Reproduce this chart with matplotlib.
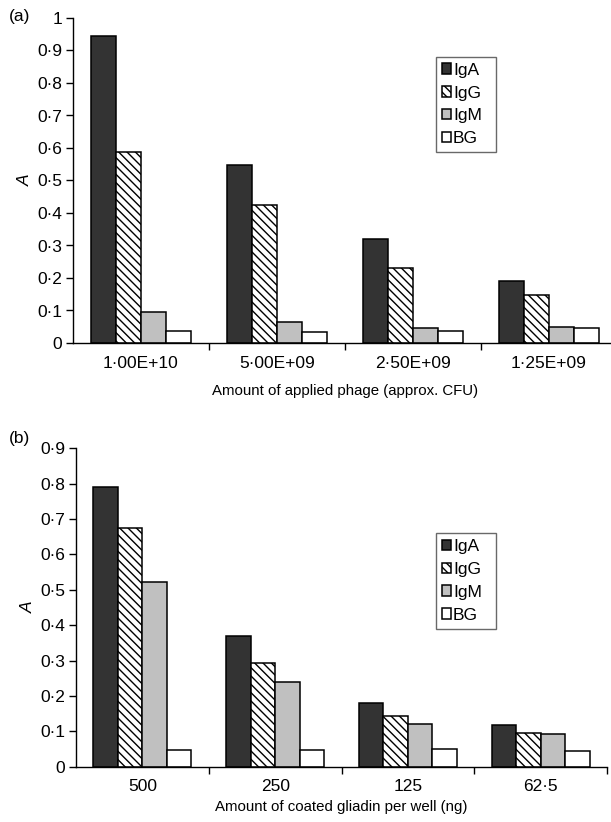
import matplotlib
matplotlib.use("Agg")
import matplotlib.pyplot as plt
import numpy as np
from matplotlib.ticker import FuncFormatter, FixedLocator

plt.rcParams['font.family'] = ['Liberation Sans', 'DejaVu Sans']
plt.rcParams['hatch.linewidth'] = 1.0

series = ['IgA', 'IgG', 'IgM', 'BG']

cats_a = ['1·00E+10', '5·00E+09', '2·50E+09', '1·25E+09']
vals_a = {
    'IgA': [0.945, 0.547, 0.321, 0.191],
    'IgG': [0.589, 0.425, 0.230, 0.149],
    'IgM': [0.096, 0.065, 0.045, 0.050],
    'BG':  [0.037, 0.033, 0.036, 0.045],
}

cats_b = ['500', '250', '125', '62·5']
vals_b = {
    'IgA': [0.792, 0.370, 0.179, 0.117],
    'IgG': [0.674, 0.293, 0.142, 0.095],
    'IgM': [0.521, 0.239, 0.121, 0.092],
    'BG':  [0.046, 0.046, 0.051, 0.043],
}

styles = {
    'IgA': dict(facecolor='#333333', hatch=None),
    'IgG': dict(facecolor='white', hatch='\\\\\\\\'),
    'IgM': dict(facecolor='#c0c0c0', hatch=None),
    'BG':  dict(facecolor='white', hatch=None),
}

W, H = 611, 822
fig = plt.figure(figsize=(W/100, H/100), dpi=100)

def px_axes(left, right, top, bottom):
    return fig.add_axes([left/W, (H-bottom)/H, (right-left)/W, (bottom-top)/H])

fs_tick = 12.5
fs_lab = 10.8
fs_leg = 12.5
dotfmt = FuncFormatter(lambda v, p: ('0' if abs(v) < 1e-9 else ('1' if abs(v-1) < 1e-9 else f'{v:.1f}'.replace('.', '·'))))

def draw(ax, cats, vals, ymax, xlabel, xlabelpad, leg_box):
    x = np.arange(len(cats))
    bw = 0.185
    for i, s in enumerate(series):
        st = styles[s]
        ax.bar(x + (i-1.5)*bw, vals[s], width=bw, facecolor=st['facecolor'],
               hatch=st['hatch'], edgecolor='black', linewidth=1.1, label=s)
    ax.set_xlim(-0.5, 3.5)
    ax.set_ylim(0, ymax)
    ax.set_yticks(np.round(np.arange(0, ymax+0.001, 0.1), 2))
    ax.yaxis.set_major_formatter(dotfmt)
    ax.set_xticks(x)
    ax.set_xticklabels(cats)
    ax.xaxis.set_minor_locator(FixedLocator([0.5, 1.5, 2.5, 3.5]))
    ax.tick_params(axis='x', which='major', length=0, pad=9, labelsize=fs_tick)
    ax.tick_params(axis='x', which='minor', length=5, direction='out', width=1)
    ax.tick_params(axis='y', length=5, width=1, direction='out', labelsize=fs_tick, pad=3)
    for sp in ['top', 'right']:
        ax.spines[sp].set_visible(False)
    for sp in ['left', 'bottom']:
        ax.spines[sp].set_linewidth(1.0)
    ax.set_xlabel(xlabel, fontsize=fs_lab, labelpad=xlabelpad)
    ax.set_ylabel('A', fontsize=fs_tick, style='italic', labelpad=3)
    leg = ax.legend(loc='upper left', bbox_to_anchor=leg_box, mode='expand',
                    fontsize=fs_leg, frameon=True, fancybox=False, edgecolor='#444444',
                    handlelength=0.55, handleheight=0.55, handletextpad=0.1,
                    borderpad=0.35, labelspacing=0.45, borderaxespad=0)
    leg.get_frame().set_linewidth(1.0)

def box(ax_left, ax_right, ax_top, ax_bottom, l, r, t):
    w = ax_right - ax_left
    h = ax_bottom - ax_top
    return ((l-ax_left)/w, (ax_bottom-t)/h, (r-l)/w, 0.0)

# panel (a)
ax1 = px_axes(73, 617, 18, 343)
draw(ax1, cats_a, vals_a, 1.0, 'Amount of applied phage (approx. CFU)', 10,
     box(73, 617, 18, 343, 435.7, 495.7, 56.7))
fig.text(9/W, 1-16/H, '(a)', fontsize=fs_tick, va='center', ha='left')

# panel (b)
ax2 = px_axes(76, 607, 448.3, 766.7)
draw(ax2, cats_b, vals_b, 0.9, 'Amount of coated gliadin per well (ng)', 4,
     box(76, 607, 448.3, 766.7, 435.7, 495.7, 533))
fig.text(9/W, 1-438/H, '(b)', fontsize=fs_tick, va='center', ha='left')

fig.savefig('out.png', dpi=100)
